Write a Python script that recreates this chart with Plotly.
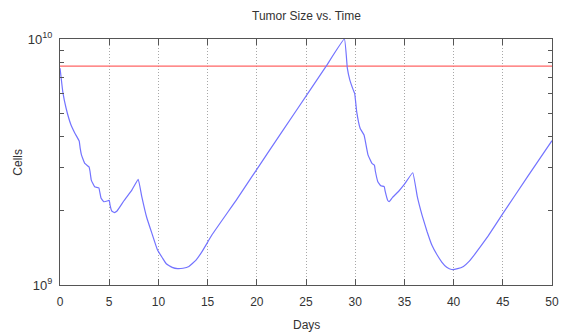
import plotly.graph_objects as go

# ---- data ----
days = [0, 0.12, 0.28, 0.62, 1.12, 1.5, 1.95, 2.05, 2.18, 2.52, 2.95, 3.05, 3.18, 3.52, 3.95,
        4.05, 4.18, 4.45, 4.88, 5.0, 5.1, 5.25, 5.5, 5.8, 6.5, 7.3, 7.95, 8.3, 8.8, 9.3, 9.9,
        10.4, 10.8, 11.4, 11.95, 12.5, 13.1, 13.8, 14.45, 15.45, 18, 21, 24, 27, 28.9,
        29.2, 29.45, 29.8, 29.95, 30.15, 30.5, 30.9, 31.0, 31.3, 31.7, 31.95, 32.05, 32.3,
        32.6, 32.95, 33.05, 33.3, 33.45, 33.8, 34.4, 34.95, 35.85, 36.3, 36.8, 37.3, 37.8,
        38.3, 38.8, 39.3, 39.8, 40.4, 41.0, 41.6, 42.2, 43.5, 45, 47.5, 50]
cells_e9 = [7.61, 6.93, 6.11, 5.23, 4.47, 4.15, 3.85, 3.6, 3.38, 3.12, 3.02, 2.9, 2.67, 2.51, 2.48,
            2.38, 2.25, 2.18, 2.2, 2.21, 2.1, 2.0, 1.97, 2.0, 2.2, 2.43, 2.69, 2.3, 1.89, 1.64, 1.39,
            1.29, 1.22, 1.18, 1.166, 1.17, 1.19, 1.26, 1.37, 1.6, 2.24, 3.39, 5.11, 7.7, 10.0,
            7.61, 6.82, 6.21, 6.0, 5.07, 4.34, 4.07, 3.9, 3.38, 3.12, 3.07, 2.9, 2.63,
            2.53, 2.51, 2.4, 2.21, 2.18, 2.27, 2.4, 2.55, 2.86, 2.3, 1.92, 1.65, 1.45,
            1.33, 1.24, 1.18, 1.156, 1.165, 1.19, 1.25, 1.34, 1.58, 1.95, 2.75, 3.86]
cells = [v * 1e9 for v in cells_e9]

threshold_days = [0, 50]
threshold_cells = [7.76e9, 7.76e9]

x_ticks = [0, 5, 10, 15, 20, 25, 30, 35, 40, 45, 50]
y_ticks = [1e9, 1e10]
y_tick_text = ["10<sup>9</sup>", "10<sup>10</sup>"]
y_minor = [2e9, 3e9, 4e9, 5e9, 6e9, 7e9, 8e9, 9e9]

FONT = "Liberation Sans, Arial, sans-serif"
TXT = "#333333"
AX = "#555555"

fig = go.Figure()
fig.add_trace(go.Scatter(x=threshold_days, y=threshold_cells, mode="lines",
                         line=dict(color="rgb(255,100,100)", width=1.2), showlegend=False,
                         hoverinfo="skip"))
fig.add_trace(go.Scatter(x=days, y=cells, mode="lines", line_shape="spline",
                         line=dict(color="rgb(115,115,255)", width=1.2, smoothing=0.3),
                         showlegend=False))
# invisible trace for the right-hand mirrored axis
fig.add_trace(go.Scatter(x=[0], y=[1e9], yaxis="y2", mode="markers",
                         marker=dict(opacity=0), showlegend=False, hoverinfo="skip"))

fig.update_layout(
    width=567, height=335,
    margin=dict(l=60, r=8, t=39, b=50),
    paper_bgcolor="white", plot_bgcolor="white",
    font=dict(family=FONT, size=12, color=TXT),
    xaxis=dict(range=[0, 50], tickvals=x_ticks, ticks="inside", ticklen=6,
               tickcolor=AX, showline=True, linecolor=AX, linewidth=1, mirror="ticks",
               showgrid=True, gridcolor="#a8a8a8", griddash="1px,2px", gridwidth=1,
               zeroline=False, ticklabelstandoff=6,
               tickfont=dict(family=FONT, size=12, color=TXT)),
    yaxis=dict(type="log", range=[9, 10], tickvals=y_ticks, ticktext=y_tick_text,
               ticks="inside", ticklen=6, tickcolor=AX, showline=True, linecolor=AX,
               linewidth=1, mirror=True, showgrid=False, zeroline=False,
               minor=dict(tickmode="array", tickvals=y_minor, ticks="inside", ticklen=4,
                          tickcolor=AX, showgrid=False),
               ticklabelstandoff=4,
               tickfont=dict(family=FONT, size=13, color=TXT)),
    yaxis2=dict(type="log", range=[9, 10], overlaying="y", side="right",
                tickvals=y_ticks, showticklabels=False, ticks="inside", ticklen=6,
                tickcolor=AX, showgrid=False, zeroline=False, showline=False,
                minor=dict(tickmode="array", tickvals=y_minor, ticks="inside", ticklen=4,
                           tickcolor=AX, showgrid=False)),
    annotations=[
        dict(text="Tumor Size vs. Time", xref="paper", yref="paper", x=0.5, y=1.0935,
             xanchor="center", yanchor="middle", showarrow=False,
             font=dict(family=FONT, size=12, color=TXT)),
        dict(text="Days", xref="paper", yref="paper", x=0.5, y=-0.163,
             xanchor="center", yanchor="middle", showarrow=False,
             font=dict(family=FONT, size=12, color=TXT)),
        dict(text="Cells", xref="paper", yref="paper", x=-0.086, y=0.5, textangle=-90,
             xanchor="center", yanchor="middle", showarrow=False,
             font=dict(family=FONT, size=12, color=TXT)),
    ],
)

fig.write_html("out.html")
